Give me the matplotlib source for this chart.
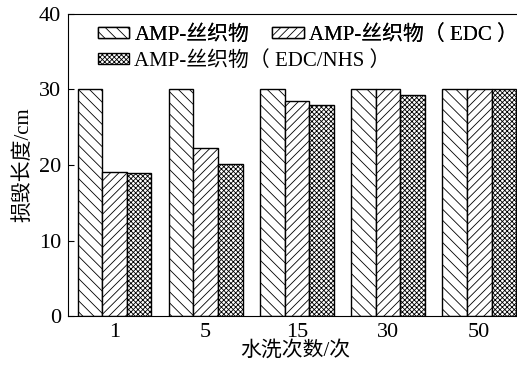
import numpy as np
import matplotlib
matplotlib.use("Agg")
from matplotlib import pyplot as plt

plt.rcParams['font.family'] = ['Liberation Serif', 'Noto Sans CJK SC']
plt.rcParams['hatch.linewidth'] = 0.6

wash_counts = ['1', '5', '15', '30', '50']
series_names = ['AMP-丝织物', 'AMP-丝织物（ EDC ）', 'AMP-丝织物（ EDC/NHS ）']
amp_silk = [30, 30, 30, 30, 30]
amp_edc = [19.1, 22.3, 28.5, 30, 30]
amp_edc_nhs = [18.9, 20.1, 27.9, 29.3, 30]
hatches = ['\\\\\\', '////', 'xxxxxxx']

W, H = 517, 369
fig = plt.figure(figsize=(W / 100, H / 100), dpi=100)
ax = fig.add_axes([68 / W, 53 / H, 1 - 68 / W + 0.01, 302 / H])

x = np.arange(len(wash_counts))
width = 0.27
bars = []
for i, (vals, name, h) in enumerate(zip([amp_silk, amp_edc, amp_edc_nhs], series_names, hatches)):
    b = ax.bar(x + (i - 1) * width, vals, width, facecolor='white', edgecolor='black',
               hatch=h, linewidth=1.0, label=name)
    bars.append(b)

ax.set_xlim(-0.51, 4.47)
ax.set_ylim(0, 40)
ax.set_yticks([0, 10, 20, 30, 40])
ax.set_xticks(x)
ax.set_xticklabels(wash_counts)
ax.tick_params(axis='y', direction='in', length=4, labelsize=16, pad=5)
ax.tick_params(axis='x', length=0, labelsize=16, pad=5)
ax.set_xlabel('水洗次数/次', fontsize=15, labelpad=-1)
ax.set_ylabel('损毁长度/cm', fontsize=15, labelpad=4)
ax.spines['right'].set_visible(False)

leg_kw = dict(frameon=False, fontsize=15, handlelength=1.5, handleheight=0.45,
              handletextpad=0.25, borderpad=0, borderaxespad=0)
# first row: silk and EDC, second row: EDC/NHS
leg1 = fig.legend(bars[:2], series_names[:2], loc='center left', ncol=2,
                  bbox_to_anchor=(98 / W, 1 - 35 / H), columnspacing=1.1, **leg_kw)
fig.legend(bars[2:], series_names[2:], loc='center left',
           bbox_to_anchor=(98 / W, 1 - 61 / H), **leg_kw)
fig.add_artist(leg1)

fig.savefig('out.png', dpi=100)
